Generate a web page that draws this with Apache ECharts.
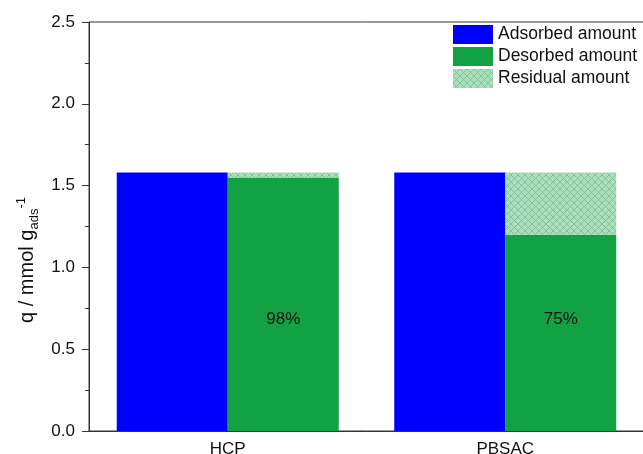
<!DOCTYPE html>
<html>
<head>
<meta charset="utf-8">
<script src="https://cdn.jsdelivr.net/npm/echarts@6/dist/echarts.min.js"></script>
<style>
  html, body { margin: 0; padding: 0; background: #fff; }
  #chart { width: 643px; height: 454px; }
</style>
</head>
<body>
<div id="chart"></div>
<script>
var categories = ['HCP', 'PBSAC'];
var adsorbed = [1.58, 1.58];
var desorbed = [1.55, 1.20];
var residual = [0.03, 0.38];
var percentLabels = ['98%', '75%'];
var labelLevel = 0.68;

// crosshatch pattern for the residual part
function hatch() {
    var c = document.createElement('canvas');
    c.width = 7;
    c.height = 7;
    var ctx = c.getContext('2d');
    ctx.fillStyle = '#a9e0bb';
    ctx.fillRect(0, 0, 7, 7);
    ctx.strokeStyle = '#82b796';
    ctx.lineWidth = 0.8;
    ctx.beginPath();
    ctx.moveTo(0, 0); ctx.lineTo(7, 7);
    ctx.moveTo(7, 0); ctx.lineTo(0, 7);
    ctx.stroke();
    return c;
}

var chart = echarts.init(document.getElementById('chart'));
var font = 'Liberation Sans, Arial, sans-serif';

var option = {
    animation: false,
    textStyle: { fontFamily: font },
    grid: {
        left: 89, top: 22, width: 555, height: 409,
        outerBoundsMode: 'none',
        show: true, borderColor: '#333', borderWidth: 1
    },
    legend: {
        orient: 'vertical',
        left: 453, top: 25,
        padding: 0,
        itemWidth: 40, itemHeight: 19, itemGap: 3,
        icon: 'rect',
        textStyle: { fontSize: 17.5, color: '#111', fontFamily: font },
        data: ['Adsorbed amount', 'Desorbed amount', 'Residual amount']
    },
    xAxis: {
        type: 'category',
        data: categories,
        axisLine: { lineStyle: { color: '#333', width: 1 } },
        axisTick: { show: false },
        axisLabel: { fontSize: 17, color: '#111', margin: 10 }
    },
    yAxis: {
        type: 'value',
        min: 0, max: 2.5, interval: 0.5,
        name: '{n|q / mmol g}{sub|ads}{sup|-1}',
        nameLocation: 'middle',
        nameGap: 44,
        nameTextStyle: {
            fontSize: 20, color: '#111',
            padding: [0, 67, 0, 0],
            rich: {
                n: { fontSize: 20, color: '#111' },
                sub: { fontSize: 13, color: '#111', verticalAlign: 'bottom', padding: [13, 0, 0, 0] },
                sup: { fontSize: 13, color: '#111', verticalAlign: 'top', padding: [0, 0, 13, 0] }
            }
        },
        axisLine: { show: true, lineStyle: { color: '#333', width: 1 } },
        axisTick: { show: true, length: 7, lineStyle: { color: '#333' } },
        minorTick: { show: true, splitNumber: 2, length: 4, lineStyle: { color: '#333' } },
        splitLine: { show: false },
        axisLabel: {
            fontSize: 17, color: '#111', margin: 14,
            formatter: function (v) { return v.toFixed(1); }
        }
    },
    series: [
        {
            name: 'Adsorbed amount',
            type: 'bar',
            stack: 'ads',
            data: adsorbed,
            barCategoryGap: '20%',
            barGap: '0%',
            itemStyle: { color: '#0000ff' }
        },
        {
            name: 'Desorbed amount',
            type: 'bar',
            stack: 'des',
            data: desorbed,
            itemStyle: { color: '#13a243' },
            markPoint: {
                symbol: 'rect',
                symbolSize: 1,
                itemStyle: { color: 'rgba(0,0,0,0)' },
                label: { show: true, fontSize: 17, color: '#111', position: 'inside' },
                data: categories.map(function (c, i) {
                    return { coord: [i, labelLevel], value: percentLabels[i],
                             label: { formatter: percentLabels[i] } };
                })
            }
        },
        {
            name: 'Residual amount',
            type: 'bar',
            stack: 'des',
            data: residual,
            itemStyle: { color: { image: hatch(), repeat: 'repeat' } }
        }
    ]
};

chart.setOption(option);
</script>
</body>
</html>
